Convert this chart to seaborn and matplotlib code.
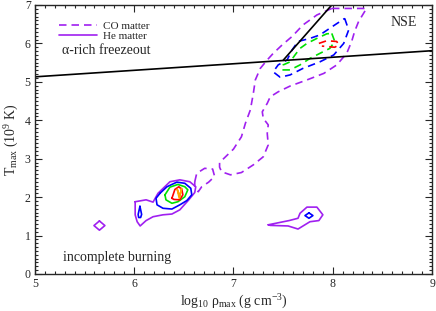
"""Tmax vs rho_max contours for CO and He matter."""

import matplotlib
matplotlib.use("Agg")
import matplotlib.pyplot as plt
from matplotlib.ticker import MultipleLocator
import pandas as pd
import seaborn as sns

# CO matter contours (dashed), (log10 rho, Tmax) vertices
co_purple_main = [
    (7.99, 6.91), (7.84, 6.74), (7.70, 6.48), (7.59, 6.18), (7.49, 5.96),
    (7.40, 5.74), (7.34, 5.57), (7.27, 5.35), (7.22, 5.05), (7.20, 4.70),
    (7.17, 4.27), (7.12, 3.92), (7.08, 3.57), (7.00, 3.25), (6.92, 3.05),
    (6.86, 2.90), (6.86, 2.78), (6.88, 2.66), (6.97, 2.58), (7.08, 2.64),
    (7.20, 2.84), (7.30, 3.05), (7.35, 3.36), (7.34, 3.66), (7.35, 3.88),
    (7.30, 4.05), (7.29, 4.22), (7.34, 4.44), (7.37, 4.61), (7.45, 4.74),
    (7.57, 4.89), (7.74, 5.05), (7.91, 5.22), (8.04, 5.44), (8.14, 5.74),
    (8.19, 6.05), (8.22, 6.31), (8.26, 6.57), (8.34, 6.91), (7.99, 6.91),
]
co_purple_lobe = [
    (6.61, 2.40), (6.63, 2.62), (6.71, 2.75), (6.79, 2.73), (6.81, 2.54),
    (6.75, 2.39), (6.68, 2.27), (6.645, 2.14), (6.61, 2.25), (6.61, 2.40),
]
co_blue = [
    (8.12, 6.65), (8.16, 6.35), (8.11, 6.00), (8.01, 5.70), (7.87, 5.52),
    (7.70, 5.35), (7.57, 5.18), (7.47, 5.12), (7.40, 5.26), (7.45, 5.44),
    (7.54, 5.57), (7.59, 5.83), (7.65, 6.05), (7.77, 6.13), (7.87, 6.22),
    (8.02, 6.48), (8.12, 6.65),
]
co_green = [
    (7.99, 6.26), (8.02, 6.05), (7.97, 5.87), (7.87, 5.74), (7.77, 5.61),
    (7.67, 5.44), (7.57, 5.31), (7.49, 5.31), (7.50, 5.44), (7.57, 5.52),
    (7.62, 5.70), (7.67, 5.87), (7.74, 6.00), (7.84, 6.13), (7.94, 6.25),
    (7.99, 6.26),
]
co_red = [
    (7.86, 6.00), (7.94, 6.07), (8.04, 6.05), (8.06, 5.96), (8.02, 5.90),
    (7.94, 5.92), (7.89, 5.93),
]

# He matter contours (solid)
he_purple_main = [
    (6.01, 1.88), (6.12, 1.93), (6.19, 1.87), (6.24, 2.10), (6.36, 2.40),
    (6.46, 2.45), (6.56, 2.40), (6.62, 2.27), (6.61, 2.12), (6.55, 1.93),
    (6.46, 1.67), (6.38, 1.56), (6.29, 1.54), (6.19, 1.49), (6.12, 1.39),
    (6.06, 1.25), (6.03, 1.36), (6.01, 1.54), (6.01, 1.88),
]
he_purple_dot = [(5.65, 1.38), (5.705, 1.26), (5.65, 1.14), (5.595, 1.26), (5.65, 1.38)]
he_purple_right = [
    (7.35, 1.28), (7.56, 1.39), (7.65, 1.45), (7.67, 1.58), (7.74, 1.74),
    (7.84, 1.74), (7.90, 1.54), (7.86, 1.39), (7.77, 1.36), (7.65, 1.17),
    (7.55, 1.25), (7.37, 1.265), (7.35, 1.28),
]
he_blue_main = [
    (6.26, 2.10), (6.33, 2.27), (6.43, 2.39), (6.51, 2.36), (6.57, 2.23),
    (6.58, 2.06), (6.53, 1.91), (6.46, 1.80), (6.38, 1.69), (6.29, 1.71),
    (6.23, 1.80), (6.22, 1.97), (6.26, 2.10),
]
he_blue_drop = [(6.058, 1.76), (6.075, 1.55), (6.065, 1.47), (6.045, 1.47), (6.04, 1.55), (6.058, 1.76)]
he_blue_right = [(7.76, 1.59), (7.80, 1.52), (7.76, 1.45), (7.72, 1.52), (7.76, 1.59)]
he_green = [
    (6.31, 2.06), (6.36, 2.26), (6.44, 2.33), (6.51, 2.27), (6.54, 2.19),
    (6.51, 2.01), (6.44, 1.88), (6.38, 1.84), (6.32, 1.93), (6.31, 2.06),
]
he_red = [
    (6.38, 1.97), (6.41, 2.20), (6.45, 2.27), (6.48, 2.20), (6.49, 2.06),
    (6.46, 1.93), (6.40, 1.94), (6.38, 1.97),
]
he_orange = [(6.434, 2.20), (6.454, 1.97), (6.478, 2.23), (6.458, 2.02), (6.434, 2.20)]

# boundary lines
freezeout_line = [(5.0, 5.13), (9.0, 5.81)]
nse_line = [(7.50, 5.56), (7.99, 7.0)]

PURPLE = "#a020f0"
BLUE = "#0000ff"
GREEN = "#00e000"
RED = "#ff0000"
ORANGE = "#ffa500"

sns.set_theme(style="ticks")
plt.rcParams["font.family"] = ["Liberation Serif", "DejaVu Serif"]
plt.rcParams["mathtext.fontset"] = "custom"
plt.rcParams["mathtext.rm"] = "Liberation Serif"
plt.rcParams["mathtext.it"] = "Liberation Serif:italic"

fig = plt.figure(figsize=(4.36, 3.11), dpi=100)
ax = fig.add_axes([0.080, 0.119, 0.911, 0.865])


def draw(pts, color, ls="-", lw=1.2):
    df = pd.DataFrame(pts, columns=["rho", "T"])
    sns.lineplot(data=df, x="rho", y="T", sort=False, estimator=None, color=color,
                 linestyle=ls, linewidth=lw, ax=ax)


dash = (0, (4.5, 3.0))
for pts, c in [(co_purple_main, PURPLE), (co_purple_lobe, PURPLE), (co_blue, BLUE),
               (co_green, GREEN), (co_red, RED)]:
    draw(pts, c, ls=dash)
for pts, c in [(he_purple_main, PURPLE), (he_purple_dot, PURPLE), (he_purple_right, PURPLE),
               (he_blue_main, BLUE), (he_blue_drop, BLUE), (he_blue_right, BLUE),
               (he_green, GREEN), (he_red, RED), (he_orange, ORANGE)]:
    draw(pts, c)
draw(freezeout_line, "black", lw=1.2)
draw(nse_line, "black", lw=1.2)

# legend handles
ax.plot([], [], color=PURPLE, linestyle=dash, lw=1.2, label="CO matter")
ax.plot([], [], color=PURPLE, lw=1.2, label="He matter")
ax.legend(loc="upper left", bbox_to_anchor=(0.045, 0.965), frameon=False, fontsize=8,
          handlelength=3.4, handletextpad=0.5, labelspacing=0.05, borderaxespad=0.2)

ax.text(5.27, 5.72, "α-rich freezeout", fontsize=10)
ax.text(8.58, 6.45, "NSE", fontsize=10)
ax.text(5.28, 0.35, "incomplete burning", fontsize=10)

ax.set_xlim(5, 9)
ax.set_ylim(0, 7)
ax.set_xticks([5, 6, 7, 8, 9])
ax.set_yticks(range(0, 8))
ax.xaxis.set_minor_locator(MultipleLocator(0.1))
ax.yaxis.set_minor_locator(MultipleLocator(0.1))
ax.tick_params(which="both", direction="in", top=True, right=True, labelsize=8.5, width=0.8)
ax.tick_params(which="major", length=5, pad=3)
ax.tick_params(which="minor", length=2.5)
for s in ax.spines.values():
    s.set_linewidth(1.0)

ax.set_xlabel("log$_{10}$ ρ$_{\\rm max}$ (g cm$^{-3}$)", fontsize=10, labelpad=2)
ax.set_ylabel("T$_{\\rm max}$ (10$^{9}$ K)", fontsize=10, labelpad=3)

fig.savefig("out.png", dpi=100)
